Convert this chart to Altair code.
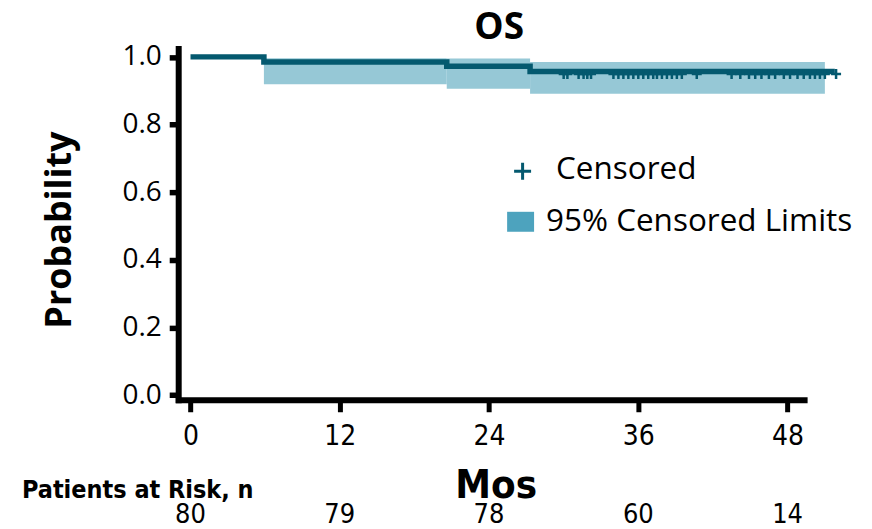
import altair as alt
import pandas as pd

# ---- data ----
step_t = [0, 5.9, 20.6, 27.3, 51.8]
step_s = [1.0, 0.985, 0.972, 0.957, 0.957]

band_start = [5.9, 20.6, 27.3]
band_end = [20.6, 27.3, 51.0]
band_lo = [0.919, 0.906, 0.891]
band_hi = [0.996, 0.995, 0.985]

censor_t = [30.0, 30.3, 31.2, 31.6, 31.9, 32.2, 34.0, 34.4, 34.8, 35.2, 35.6,
            36.0, 36.4, 36.8, 37.2, 37.5, 37.9, 38.3, 38.7, 39.1, 39.5, 40.7,
            43.5, 44.2, 44.9, 45.4, 45.9, 46.5, 47.0, 47.7, 48.2, 48.8, 49.3,
            49.8, 50.2, 50.6, 51.0, 51.9]
censor_s = [0.957] * len(censor_t)

risk_t = [0, 12, 24, 36, 48]
risk_n = [80, 79, 78, 60, 14]

x_ticks = [0, 12, 24, 36, 48]
y_ticks = [0.0, 0.2, 0.4, 0.6, 0.8, 1.0]

title_text = "OS"
y_title = "Probability"
x_title = "Mos"
risk_title = "Patients at Risk, n"
legend_labels = ["Censored", "95% Censored Limits"]

LINE = "#04596F"
BAND = "#96C8D6"
LEG_BAND = "#4DA3BE"
COND = "DejaVu Sans Condensed"

band_df = pd.DataFrame({"start": band_start, "end": band_end, "lo": band_lo, "hi": band_hi})
step_df = pd.DataFrame({"t": step_t, "s": step_s})
cens_df = pd.DataFrame({"t": censor_t, "s": censor_s})
risk_df = pd.DataFrame({"t": risk_t, "n": risk_n})
one = pd.DataFrame({"a": [0]})

xs = alt.Scale(domain=[-0.99, 49.33], nice=False, zero=False)
ys = alt.Scale(domain=[-0.0133, 1.0251], nice=False, zero=False)

x_axis = alt.Axis(values=x_ticks, format="d", title="", grid=False,
                  domainWidth=6, domainColor="black", domainCap="square",
                  tickWidth=5, tickSize=12, tickColor="black",
                  labelFont=COND, labelFontSize=28,
                  labelColor="black", labelPadding=11, labelFlush=False)
y_axis = alt.Axis(values=y_ticks, format=".1f", title="", grid=False,
                  domainWidth=6, domainColor="black", domainCap="square",
                  tickWidth=5.5, tickSize=9, tickColor="black",
                  labelFont="Open Sans", labelFontSize=28,
                  labelColor="black", labelPadding=8)

band = alt.Chart(band_df).mark_rect(color=BAND).encode(
    x=alt.X("start:Q", scale=xs, axis=x_axis),
    x2="end:Q",
    y=alt.Y("lo:Q", scale=ys, axis=y_axis),
    y2="hi:Q",
)

line = alt.Chart(step_df).mark_line(interpolate="step-after", color=LINE,
                                    strokeWidth=5.5).encode(
    x=alt.X("t:Q", scale=xs, title=""),
    y=alt.Y("s:Q", scale=ys, title=""),
)

cens = alt.Chart(cens_df).mark_point(shape="M-1,0H1M0,-1V1", filled=False,
                                     color=LINE, strokeWidth=2.5, size=100,
                                     yOffset=2.5, opacity=1).encode(
    x=alt.X("t:Q", scale=xs, title=""),
    y=alt.Y("s:Q", scale=ys, title=""),
)

risk = alt.Chart(risk_df).mark_text(font=COND, fontSize=27,
                                    color="black", baseline="alphabetic").encode(
    x=alt.X("t:Q", scale=xs, title=""),
    y=alt.value(475),
    text="n:Q",
)

def label(txt, x, y, **kw):
    return alt.Chart(one).mark_text(text=txt, color="black", **kw).encode(
        x=alt.value(x), y=alt.value(y))

title_m = label(title_text, 321.5, -20, font="Open Sans", fontSize=37,
                fontWeight="bold", baseline="middle", align="center")
ytitle_m = label(y_title, -118, 182, font="Open Sans", fontSize=36,
                 fontWeight="bold", baseline="middle", align="center", angle=270)
xtitle_m = label(x_title, 318.5, 450, font=COND, fontSize=40,
                 fontWeight="bold", baseline="alphabetic", align="center")
risk_title_m = label(risk_title, -156.5, 450, font=COND,
                     fontSize=25, fontWeight="bold", baseline="alphabetic", align="left")

leg_plus = alt.Chart(one).mark_point(shape="M-1,0H1M0,-1V1", filled=False,
                                     color=LINE, strokeWidth=3, size=289,
                                     opacity=1).encode(
    x=alt.value(345), y=alt.value(123))
leg_sq = alt.Chart(one).mark_point(shape="M-1.35,-1H1.35V1H-1.35Z", filled=True,
                                   color=LEG_BAND, size=400, opacity=1).encode(
    x=alt.value(343), y=alt.value(173.7))
leg_t1 = label(legend_labels[0], 378.5, 131, font="Open Sans", fontSize=31.5,
               baseline="alphabetic", align="left")
leg_t2 = label(legend_labels[1], 368.5, 183, font="Open Sans", fontSize=31.5,
               baseline="alphabetic", align="left")

chart = alt.layer(band, line, cens, risk, title_m, ytitle_m, xtitle_m,
                  risk_title_m, leg_plus, leg_sq, leg_t1, leg_t2).properties(
    width=627, height=352,
    autosize=alt.AutoSizeParams(type="none"),
    padding={"left": 170.5, "top": 40, "right": 60, "bottom": 128},
    background="white",
).configure_view(strokeWidth=0)

chart.save("out.html", embed_options={"renderer": "svg", "actions": False})
